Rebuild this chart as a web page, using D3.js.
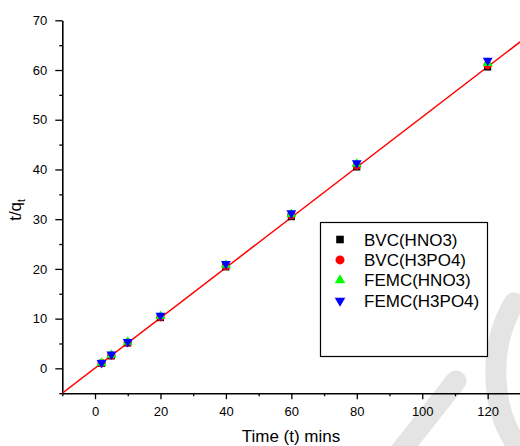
<!DOCTYPE html>
<html>
<head>
<meta charset="utf-8">
<script src="https://cdn.jsdelivr.net/npm/d3@7"></script>
<style>
  html, body { margin: 0; padding: 0; background: #fff; }
  svg { display: block; font-family: "Liberation Sans", Arial, sans-serif; }
</style>
</head>
<body>
<svg id="chart" width="520" height="446"></svg>
<script>
// Pseudo-second-order kinetics: t/q_t against contact time
const times = [2, 5, 10, 20, 40, 60, 80, 120];
const bvcHNO3 = [1.0, 2.5, 5.1, 10.2, 20.4, 30.5, 40.5, 60.6];
const bvcH3PO4 = [1.05, 2.6, 5.2, 10.3, 20.6, 30.8, 40.8, 61.0];
const femcHNO3 = [1.1, 2.7, 5.3, 10.5, 20.8, 31.0, 41.1, 61.4];
const femcH3PO4 = [1.1, 2.8, 5.35, 10.6, 21.0, 31.2, 41.3, 61.9];
const seriesNames = ["BVC(HNO3)", "BVC(H3PO4)", "FEMC(HNO3)", "FEMC(H3PO4)"];
const seriesColors = ["#000000", "#ff0000", "#00ff00", "#0000ff"];
const fitSlope = 0.505;
const fitIntercept = 0.05;
const xMajorTicks = [0, 20, 40, 60, 80, 100, 120];
const xMinorTicks = [-10, 10, 30, 50, 70, 90, 110, 130];
const yMajorTicks = [0, 10, 20, 30, 40, 50, 60, 70];
const yMinorTicks = [-5, 5, 15, 25, 35, 45, 55, 65];

const svg = d3.select("#chart");

// faint background strokes
const bg = svg.append("g").attr("fill", "none").attr("stroke", "#e4e4e4")
  .attr("stroke-width", 21).attr("stroke-linecap", "round");
bg.append("path").attr("d", "M456,381 L400,452");
bg.append("path").attr("d", "M514,303 C489,345 488,410 522,452");

const x = d3.scaleLinear().domain([-10, 130]).range([62.3, 520.4]);
const y = d3.scaleLinear().domain([-5, 70]).range([393.2, 20.3]);

// axes
const axisStyle = g => {
  g.selectAll("path.domain").attr("stroke", "#000").attr("stroke-width", 1.6);
  g.selectAll("line").attr("stroke", "#000").attr("stroke-width", 1.3);
  g.selectAll("text").attr("fill", "#000").style("font-size", "13px")
    .style("font-family", "'Liberation Sans', Arial, sans-serif");
};

svg.append("g").attr("transform", `translate(0,${y(-5)})`)
  .call(d3.axisBottom(x).tickValues(xMinorTicks).tickSize(3).tickSizeOuter(0).tickFormat(""))
  .call(axisStyle);
const xAxis = svg.append("g").attr("transform", `translate(0,${y(-5)})`)
  .call(d3.axisBottom(x).tickValues(xMajorTicks).tickSize(6).tickSizeOuter(0).tickPadding(8))
  .call(axisStyle);
xAxis.select("path.domain").remove();

svg.append("g").attr("transform", `translate(${x(-10)},0)`)
  .call(d3.axisLeft(y).tickValues(yMinorTicks).tickSize(3).tickSizeOuter(0).tickFormat(""))
  .call(axisStyle);
const yAxis = svg.append("g").attr("transform", `translate(${x(-10)},0)`)
  .call(d3.axisLeft(y).tickValues(yMajorTicks).tickSize(7).tickSizeOuter(0).tickPadding(8))
  .call(axisStyle);
yAxis.select("path.domain").remove();

// axis titles
svg.append("text")
  .attr("x", 291).attr("y", 441.5)
  .attr("text-anchor", "middle")
  .style("font-size", "17px")
  .text("Time (t) mins");

const yTitle = svg.append("text")
  .attr("transform", "translate(21,210) rotate(-90)")
  .attr("text-anchor", "middle")
  .style("font-size", "17px");
yTitle.append("tspan").text("t/q");
yTitle.append("tspan").attr("dy", 4).style("font-size", "10px").text("t");

// fitted line
svg.append("clipPath").attr("id", "plotClip")
  .append("rect").attr("x", x(-10)).attr("y", y(70) - 30)
  .attr("width", x(130) - x(-10)).attr("height", y(-5) - y(70) + 30);
const fitDomain = x.domain();
svg.append("line")
  .attr("clip-path", "url(#plotClip)")
  .attr("x1", x(fitDomain[0])).attr("y1", y(fitSlope * fitDomain[0] + fitIntercept))
  .attr("x2", x(fitDomain[1])).attr("y2", y(fitSlope * fitDomain[1] + fitIntercept))
  .attr("stroke", "#ff0000").attr("stroke-width", 1.5);

// markers
const symbols = [
  { type: d3.symbolSquare, size: 50, rotate: 0 },
  { type: d3.symbolCircle, size: 55, rotate: 0 },
  { type: d3.symbolTriangle, size: 42, rotate: 0 },
  { type: d3.symbolTriangle, size: 42, rotate: 180 }
];
const seriesValues = [bvcHNO3, bvcH3PO4, femcHNO3, femcH3PO4];

seriesValues.forEach((vals, i) => {
  const s = symbols[i];
  svg.append("g").selectAll("path")
    .data(times.map((t, j) => ({ t, v: vals[j] })))
    .join("path")
    .attr("d", d3.symbol().type(s.type).size(s.size))
    .attr("transform", d => `translate(${x(d.t)},${y(d.v)}) rotate(${s.rotate})`)
    .attr("fill", seriesColors[i]);
});

// legend
const legend = svg.append("g");
legend.append("rect")
  .attr("x", 320.5).attr("y", 222.5).attr("width", 167).attr("height", 134)
  .attr("fill", "#fff").attr("stroke", "#000").attr("stroke-width", 1.2);
seriesNames.forEach((name, i) => {
  const s = symbols[i];
  const cy = 239.5 + i * 20.4;
  legend.append("path")
    .attr("d", d3.symbol().type(s.type).size(s.size * 1.15))
    .attr("transform", `translate(340,${cy}) rotate(${s.rotate})`)
    .attr("fill", seriesColors[i]);
  legend.append("text")
    .attr("x", 364).attr("y", cy + 6)
    .style("font-size", "17px")
    .text(name);
});
</script>
</body>
</html>
